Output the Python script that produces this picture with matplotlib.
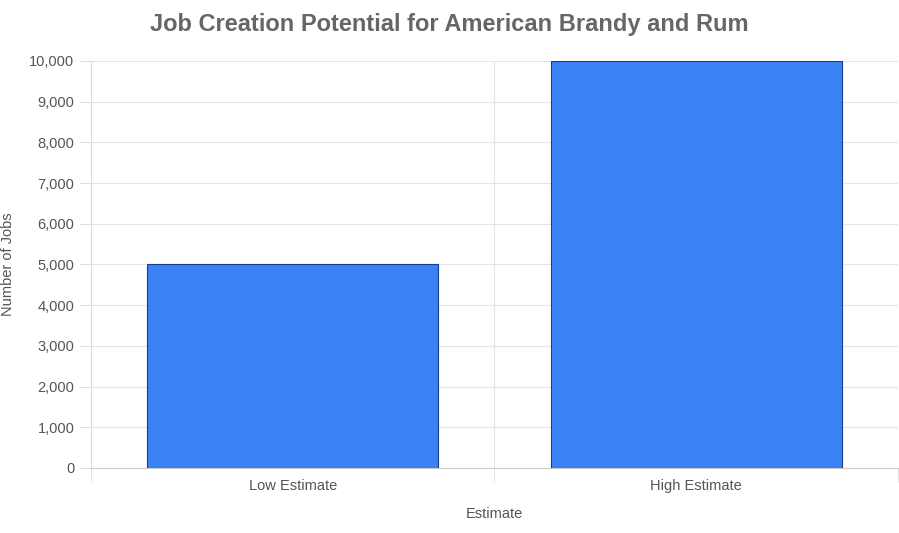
import matplotlib
matplotlib.use("Agg")
import matplotlib.pyplot as plt
from matplotlib.ticker import FuncFormatter, FixedLocator

categories = ["Low Estimate", "High Estimate"]
jobs = [5000, 10000]

plt.rcParams["font.family"] = "Liberation Sans"
fig = plt.figure(figsize=(8.99, 5.33), dpi=100)
ax = fig.add_axes([0.1012, 0.122, 0.8977, 0.7636])
x = list(range(len(categories)))
ax.bar(x, jobs, width=0.72, color="#3B82F6", edgecolor="#1E3A8A", linewidth=0.8, zorder=3)
ax.set_xlim(-0.5, len(categories) - 0.5)
ax.set_ylim(0, 10000)
ax.set_yticks(range(0, 10001, 1000))
ax.yaxis.set_major_formatter(FuncFormatter(lambda v, p: f"{int(v):,}"))
ax.set_xticks(x)
ax.set_xticklabels(categories)
ax.xaxis.set_minor_locator(FixedLocator([-0.5, 0.5, 1.5]))
ax.tick_params(axis="x", which="major", length=0, pad=8, labelsize=10.5, labelcolor="#555555")
ax.tick_params(axis="x", which="minor", length=10, color="#dddddd")
ax.tick_params(axis="y", length=8, color="#dddddd", labelsize=10.5, labelcolor="#555555", pad=4)
ax.grid(True, axis="y", color="#e5e5e5", linewidth=0.8, zorder=0)
ax.grid(True, axis="x", which="minor", color="#e5e5e5", linewidth=0.8, zorder=0)
for s in ["top", "right"]:
    ax.spines[s].set_visible(False)
ax.spines["left"].set_color("#dddddd")
ax.spines["bottom"].set_color("#cccccc")
ax.set_xlabel("Estimate", color="#555555", fontsize=10.5, labelpad=10)
ax.set_ylabel("Number of Jobs", color="#555555", fontsize=10.5, labelpad=10)
fig.suptitle("Job Creation Potential for American Brandy and Rum", x=0.5, y=0.975,
             fontsize=17, fontweight="bold", color="#666666")
fig.savefig("out.png", dpi=100)
